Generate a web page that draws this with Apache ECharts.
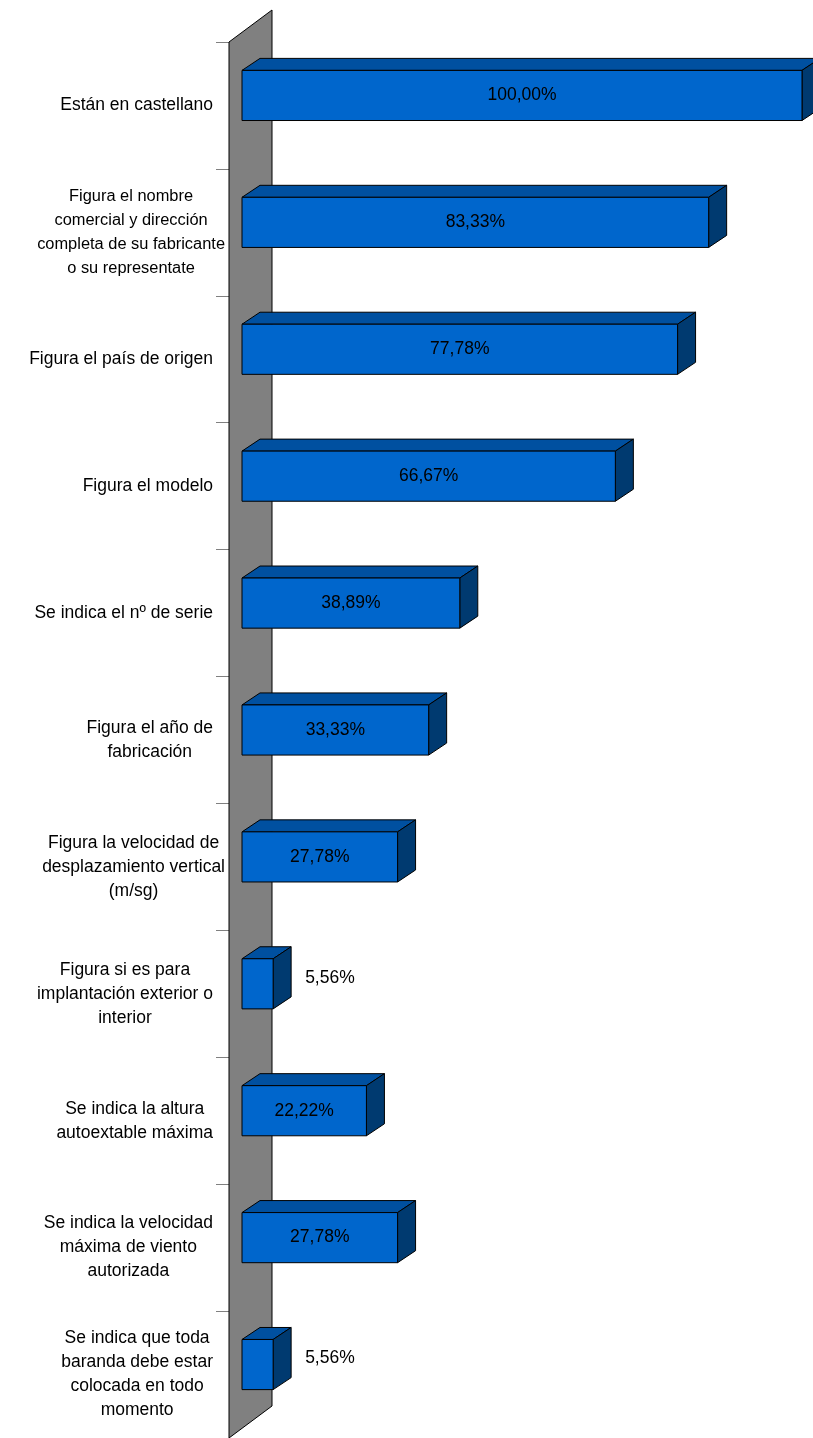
<!DOCTYPE html>
<html>
<head>
<meta charset="utf-8">
<script src="https://cdn.jsdelivr.net/npm/echarts@6/dist/echarts.min.js"></script>
<style>
html,body{margin:0;padding:0;background:#fff;}
#chart{width:813px;height:1438px;}
</style>
</head>
<body>
<div id="chart"></div>
<script>
// Categories (top to bottom) and their percentages
var categories = [
  'Están en castellano',
  'Figura el nombre\ncomercial y dirección\ncompleta de su fabricante\no su representate',
  'Figura el país de origen',
  'Figura el modelo',
  'Se indica el nº de serie',
  'Figura el año de\nfabricación',
  'Figura la velocidad de\ndesplazamiento vertical\n(m/sg)',
  'Figura si es para\nimplantación exterior o\ninterior',
  'Se indica la altura\nautoextable máxima',
  'Se indica la velocidad\nmáxima de viento\nautorizada',
  'Se indica que toda\nbaranda debe estar\ncolocada en todo\nmomento'
];
var values = [100.00, 83.33, 77.78, 66.67, 38.89, 33.33, 27.78, 5.56, 22.22, 27.78, 5.56];

var FONT_FAMILY = '"Liberation Sans", Arial, sans-serif';
var FONT_SIZE = 17.5;
var LINE_HEIGHT = 24;
var LABEL_GAP = 16;        // normal space between label block and wall
var LABEL_GAP_WIDE = 4;    // reduced space for wide multi-line blocks
var WIDE_BLOCK = 178;      // multi-line blocks wider than this use the reduced gap
var LABEL_MAX_W = 190;     // wider blocks are shrunk
var LABEL_FIT_W = 188;
// 3D projection: wall depth, bar front offset and bar depth (pixels)
var WALL_DX = 43, WALL_DY = -32;
var FRONT_DX = 13, FRONT_DY = -10;
var BAR_DX = 18, BAR_DY = -12;

function fmt(v) { return v.toFixed(2).replace('.', ',') + '%'; }

var measureCtx = document.createElement('canvas').getContext('2d');
function blockWidth(text, size) {
  measureCtx.font = size + 'px ' + FONT_FAMILY;
  return Math.max.apply(null, text.split('\n').map(function (l) { return measureCtx.measureText(l).width; }));
}

var chart = echarts.init(document.getElementById('chart'), null, {renderer: 'canvas'});

chart.setOption({
  animation: false,
  backgroundColor: '#ffffff',
  grid: {left: 229, top: 42, width: 560, height: 1398, containLabel: false},
  xAxis: {type: 'value', min: 0, max: 100, show: false},
  yAxis: {
    type: 'category',
    inverse: true,
    data: categories,
    axisLine: {show: false},
    axisTick: {show: true, length: 13, lineStyle: {color: '#808080', width: 1}},
    axisLabel: {show: false},
    splitLine: {show: false}
  },
  series: [
    {
      // back wall
      type: 'custom',
      z: 1,
      silent: true,
      data: [[0, 0]],
      renderItem: function (params, api) {
        var c = api.coord([0, 0]);
        var band = api.size([0, 1])[1];
        var top = c[1] - band / 2;
        var bottom = top + band * categories.length;
        var x = c[0];
        return {
          type: 'polygon',
          shape: {points: [[x, top], [x + WALL_DX, top + WALL_DY], [x + WALL_DX, bottom + WALL_DY], [x, bottom]]},
          style: {fill: '#808080', stroke: '#000', lineWidth: 1}
        };
      }
    },
    {
      // category labels: lines centred, block right-aligned next to the wall
      type: 'custom',
      z: 3,
      silent: true,
      data: categories.map(function (c, i) { return [0, i]; }),
      encode: {x: 0, y: 1},
      renderItem: function (params, api) {
        var idx = api.value(1);
        var text = categories[idx];
        var p = api.coord([0, idx]);
        var size = FONT_SIZE;
        var w = blockWidth(text, size);
        var right = p[0] - LABEL_GAP;
        if (text.indexOf('\n') >= 0 && w > WIDE_BLOCK) {
          right = p[0] - LABEL_GAP_WIDE;
          if (w > LABEL_MAX_W) {
            size = size * LABEL_FIT_W / w;
            w = blockWidth(text, size);
          }
        }
        return {
          type: 'text',
          style: {
            text: text,
            x: right - w / 2,
            y: p[1],
            align: 'center',
            verticalAlign: 'middle',
            fill: '#000',
            font: size + 'px ' + FONT_FAMILY,
            lineHeight: LINE_HEIGHT
          }
        };
      }
    },
    {
      // 3D bars
      type: 'custom',
      z: 2,
      data: values.map(function (v, i) { return [v, i]; }),
      encode: {x: 0, y: 1},
      renderItem: function (params, api) {
        var v = api.value(0);
        var idx = api.value(1);
        var p0 = api.coord([0, idx]);
        var p1 = api.coord([v, idx]);
        var band = api.size([0, 1])[1];
        var h = band * 0.395;
        var x0 = p0[0] + FRONT_DX, x1 = p1[0] + FRONT_DX;
        var yc = p0[1] + FRONT_DY;
        var y0 = yc - h / 2, y1 = yc + h / 2;
        var st = {stroke: '#000', lineWidth: 1, lineJoin: 'round'};
        var children = [
          {type: 'polygon', shape: {points: [[x0, y0], [x0 + BAR_DX, y0 + BAR_DY], [x1 + BAR_DX, y0 + BAR_DY], [x1, y0]]},
            style: Object.assign({fill: '#0050a0'}, st)},
          {type: 'polygon', shape: {points: [[x1, y0], [x1 + BAR_DX, y0 + BAR_DY], [x1 + BAR_DX, y1 + BAR_DY], [x1, y1]]},
            style: Object.assign({fill: '#003a70'}, st)},
          {type: 'rect', shape: {x: x0, y: y0, width: x1 - x0, height: h},
            style: Object.assign({fill: '#0066cc'}, st)}
        ];
        var inside = v > 12;
        children.push({
          type: 'text',
          style: {
            text: fmt(v),
            x: inside ? (x0 + x1) / 2 : x1 + BAR_DX + 14,
            y: inside ? yc : yc + BAR_DY / 2,
            align: inside ? 'center' : 'left',
            verticalAlign: 'middle',
            fill: '#000',
            font: FONT_SIZE + 'px ' + FONT_FAMILY
          }
        });
        return {type: 'group', children: children};
      }
    }
  ]
});
</script>
</body>
</html>
